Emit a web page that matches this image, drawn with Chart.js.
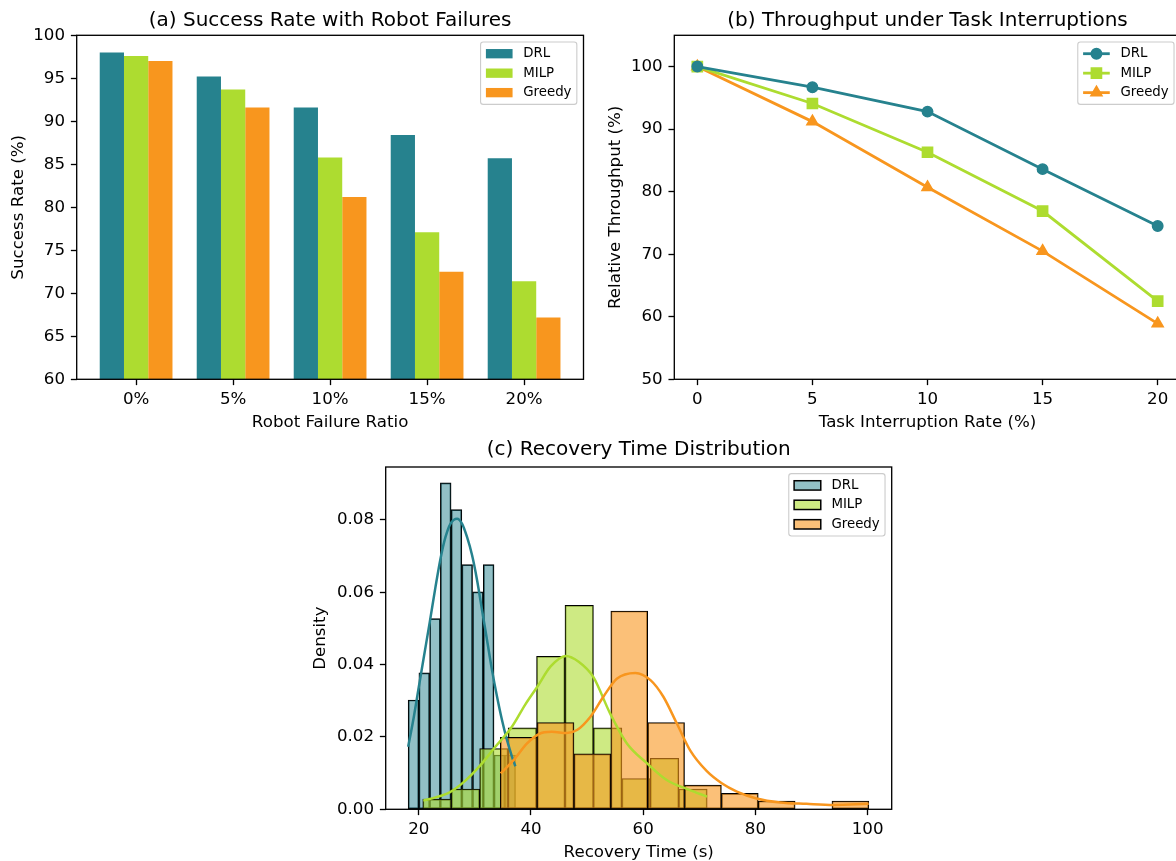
<!DOCTYPE html>
<html>
<head>
<meta charset="utf-8">
<script src="https://cdn.jsdelivr.net/npm/chart.js@4.4.1/dist/chart.umd.min.js"></script>
<style>
html,body{margin:0;padding:0;width:1176px;height:861px;overflow:hidden;background:#fff;}
canvas{position:absolute;}
#ca{left:0;top:0;}
#cb{left:600px;top:0;}
#cc{left:290px;top:430px;}
</style>
</head>
<body>
<canvas id="ca" width="600" height="440"></canvas>
<canvas id="cb" width="600" height="440"></canvas>
<canvas id="cc" width="620" height="440"></canvas>
<script>
// ---------------- data ----------------
const failureRatios = ['0%', '5%', '10%', '15%', '20%'];
const successDRL    = [98.0, 95.2, 91.6, 88.4, 85.7];
const successMILP   = [97.6, 93.7, 85.8, 77.1, 71.4];
const successGreedy = [97.0, 91.6, 81.2, 72.5, 67.2];
const successTicks  = [60, 65, 70, 75, 80, 85, 90, 95, 100];

const interruptRates   = [0, 5, 10, 15, 20];
const throughputDRL    = [100, 96.7, 92.8, 83.6, 74.5];
const throughputMILP   = [100, 94.1, 86.3, 76.9, 62.5];
const throughputGreedy = [100, 91.2, 80.7, 70.5, 58.9];
const throughputTicks  = [50, 60, 70, 80, 90, 100];

const drlBinEdges    = [18.10, 20.01, 21.93, 23.84, 25.76, 27.67, 29.58, 31.50, 33.41, 35.33, 37.24];
const drlDensity     = [0.0302, 0.0377, 0.0527, 0.0902, 0.0828, 0.0676, 0.0601, 0.0676, 0.0150, 0.0150];
const milpBinEdges   = [20.71, 25.78, 30.85, 35.92, 40.99, 46.06, 51.13, 56.20, 61.27, 66.34, 71.41];
const milpDensity    = [0.0028, 0.0056, 0.0168, 0.0225, 0.0423, 0.0564, 0.0225, 0.0085, 0.0141, 0.0056];
const greedyBinEdges = [34.52, 41.09, 47.66, 54.23, 60.80, 67.37, 73.94, 80.51, 87.08, 93.65, 100.22];
const greedyDensity  = [0.0199, 0.0240, 0.0153, 0.0548, 0.0240, 0.0067, 0.0044, 0.0023, 0.0, 0.0023];

const drlKdeX = [18.11, 19.12, 20.0, 20.9, 21.96, 22.97, 23.86, 24.75, 25.64, 26.83, 27.72, 28.61, 29.5, 30.39, 31.28, 32.17, 33.06, 33.95, 34.84, 35.73, 36.62, 37.21];
const drlKdeY = [0.0173, 0.0256, 0.0338, 0.0421, 0.0518, 0.0614, 0.0692, 0.0752, 0.0789, 0.0803, 0.0789, 0.0752, 0.0702, 0.0633, 0.0550, 0.0467, 0.0384, 0.0311, 0.0246, 0.0191, 0.0145, 0.0119];
const milpKdeX = [20.8, 23.0, 25.5, 28.0, 31.0, 33.5, 36.6, 39.0, 41.1, 43.5, 46.2, 48.5, 51.1, 54.1, 57.1, 60.7, 64.2, 68.0, 71.4];
const milpKdeY = [0.0024, 0.0033, 0.0047, 0.0075, 0.0122, 0.0170, 0.0228, 0.0290, 0.0338, 0.0395, 0.0424, 0.0408, 0.0366, 0.0265, 0.0182, 0.0127, 0.0081, 0.0055, 0.0035];
const greedyKdeX = [34.6, 36.9, 39.3, 41.4, 43.7, 46.4, 48.2, 50.6, 52.9, 55.3, 58.6, 61.3, 63.6, 66.0, 68.4, 71.3, 74.0, 76.7, 80.2, 84.4, 89.1, 93.9, 100.2];
const greedyKdeY = [0.0099, 0.0136, 0.0182, 0.0208, 0.0214, 0.0211, 0.0219, 0.0256, 0.0311, 0.0361, 0.0377, 0.0357, 0.0311, 0.0237, 0.0162, 0.0106, 0.0072, 0.0049, 0.0030, 0.0019, 0.0015, 0.0012, 0.0015];

const recoveryTicks = [20, 40, 60, 80, 100];
const densityTicks  = [0, 0.02, 0.04, 0.06, 0.08];

// ---------------- styling ----------------
const C_DRL = '#26828E', C_MILP = '#ADDC30', C_GREEDY = '#F8961E';
const PT = 120 / 72;
const FS_TICK = 10 * PT, FS_TITLE = 12 * PT, FS_LEG = 8 * PT;
const TICK_LEN = 3.5 * PT, AXIS_LW = 0.8 * PT;
const FONT = "'DejaVu Sans', 'Liberation Sans', sans-serif";

Chart.defaults.font.family = FONT;
Chart.defaults.color = '#000';
Chart.defaults.animation = false;

function rgba(hex, a) {
  const n = parseInt(hex.slice(1), 16);
  return `rgba(${(n >> 16) & 255},${(n >> 8) & 255},${n & 255},${a})`;
}
function pts(xs, ys) { return xs.map((x, i) => ({x: x, y: ys[i]})); }
function centers(edges) { return edges.slice(0, -1).map((e, i) => (e + edges[i + 1]) / 2); }

function gridOpts() {
  return {display: true, offset: false, drawOnChartArea: false, drawTicks: true, tickLength: TICK_LEN,
    tickWidth: AXIS_LW, tickColor: '#000', color: '#000'};
}

function xScale(o) {
  return {
    type: 'linear', position: 'bottom', min: o.min, max: o.max, offset: false,
    afterBuildTicks: s => { s.ticks = o.ticks.map(v => ({value: v})); },
    afterFit: s => { s.height = o.height; },
    grid: gridOpts(), border: {display: false},
    ticks: {font: {size: FS_TICK}, padding: 4.3, maxRotation: 0, autoSkip: false, color: '#000', callback: o.fmt},
    title: {display: true, text: o.title, color: '#000', font: {size: FS_TICK}, padding: {top: 0, bottom: o.titlePad}}
  };
}
function yScale(o) {
  return {
    type: 'linear', position: 'left', min: o.min, max: o.max, offset: false,
    afterBuildTicks: s => { s.ticks = o.ticks.map(v => ({value: v})); },
    afterFit: s => { s.width = o.width; },
    grid: gridOpts(), border: {display: false},
    ticks: {font: {size: FS_TICK}, padding: 5.8, autoSkip: false, color: '#000', callback: o.fmt},
    title: {display: true, text: o.title, color: '#000', font: {size: FS_TICK}, padding: {top: o.titlePad, bottom: 0}}
  };
}
function hiddenX(min, max) {
  return {type: 'linear', axis: 'x', position: 'bottom', display: false, min: min, max: max,
    offset: false, grid: {offset: false},
    afterBuildTicks: s => { s.ticks = [{value: min}]; }};
}
function titleOpts(text, top, bottom) {
  return {display: true, fullSize: false, text: text, color: '#000',
    font: {size: FS_TITLE, weight: 'normal'}, padding: {top: top, bottom: bottom}};
}

function drawMarker(ctx, style, x, y, r) {
  ctx.beginPath();
  if (style === 'circle') {
    ctx.arc(x, y, r, 0, Math.PI * 2);
  } else if (style === 'rect') {
    const s = r * Math.SQRT1_2;
    ctx.rect(x - s, y - s, 2 * s, 2 * s);
  } else if (style === 'triangle') {
    ctx.moveTo(x, y - r);
    ctx.lineTo(x + r * 0.866, y + r * 0.5);
    ctx.lineTo(x - r * 0.866, y + r * 0.5);
    ctx.closePath();
  }
  ctx.fill();
  ctx.stroke();
}

// matplotlib-like frame and in-axes legend
const mplDecor = {
  id: 'mplDecor',
  afterDatasetsDraw(chart) {
    const {ctx, chartArea: a} = chart;
    ctx.save();
    ctx.strokeStyle = '#000';
    ctx.lineWidth = AXIS_LW;
    ctx.strokeRect(a.left, a.top, a.right - a.left, a.bottom - a.top);
    ctx.restore();
  },
  afterDraw(chart) {
    const items = chart.data.datasets.filter(d => d.legendKind);
    if (!items.length) return;
    const {ctx, chartArea: a} = chart;
    const fs = FS_LEG, pad = 0.4 * fs, hLen = 2 * fs, hGap = 0.8 * fs, rowH = 12.8, rowGap = 0.5 * fs;
    ctx.save();
    ctx.font = `${fs}px ${FONT}`;
    const tw = Math.max(...items.map(d => ctx.measureText(d.label).width));
    const w = pad * 2 + hLen + hGap + tw;
    const h = pad * 2 + items.length * rowH + (items.length - 1) * rowGap;
    const right = a.right - 0.5 * fs, top = a.top + 0.5 * fs, left = right - w;
    ctx.beginPath();
    if (ctx.roundRect) ctx.roundRect(left, top, w, h, 2.7); else ctx.rect(left, top, w, h);
    ctx.fillStyle = 'rgba(255,255,255,0.8)';
    ctx.fill();
    ctx.strokeStyle = '#cccccc';
    ctx.lineWidth = 1.1;
    ctx.stroke();
    items.forEach((d, i) => {
      const cy = top + pad + rowH / 2 + i * (rowH + rowGap);
      const hx = left + pad;
      if (d.legendKind === 'patch') {
        ctx.fillStyle = d.backgroundColor;
        ctx.fillRect(hx, cy - 0.35 * fs, hLen, 0.7 * fs);
        if (d.borderWidth) {
          ctx.strokeStyle = d.borderColor;
          ctx.lineWidth = 1.5;
          ctx.strokeRect(hx, cy - 0.35 * fs, hLen, 0.7 * fs);
        }
      } else {
        ctx.strokeStyle = d.borderColor;
        ctx.lineWidth = d.borderWidth;
        ctx.beginPath();
        ctx.moveTo(hx, cy);
        ctx.lineTo(hx + hLen, cy);
        ctx.stroke();
        ctx.fillStyle = d.pointBackgroundColor;
        ctx.strokeStyle = d.pointBorderColor;
        ctx.lineWidth = d.pointBorderWidth;
        drawMarker(ctx, d.pointStyle, hx + hLen / 2, cy, d.pointRadius);
      }
      ctx.fillStyle = '#000';
      ctx.textAlign = 'left';
      ctx.textBaseline = 'middle';
      ctx.fillText(d.label, hx + hLen + hGap, cy);
    });
    ctx.restore();
  }
};
Chart.register(mplDecor);

const baseOpts = {responsive: false, animation: false, events: []};

// ---------------- (a) grouped bars ----------------
const idx = failureRatios.map((_, i) => i);
new Chart(document.getElementById('ca'), {
  type: 'bar',
  data: {
    datasets: [
      {label: 'DRL', data: pts(idx, successDRL), backgroundColor: C_DRL, legendKind: 'patch'},
      {label: 'MILP', data: pts(idx, successMILP), backgroundColor: C_MILP, legendKind: 'patch'},
      {label: 'Greedy', data: pts(idx, successGreedy), backgroundColor: C_GREEDY, legendKind: 'patch'}
    ]
  },
  options: Object.assign({}, baseOpts, {
    layout: {padding: {left: 0, right: 16.5, top: 0, bottom: 0}},
    datasets: {bar: {categoryPercentage: 0.75, barPercentage: 1.0, borderWidth: 0}},
    scales: {
      x: xScale({min: -0.6125, max: 4.6125, ticks: idx, fmt: v => failureRatios[Math.round(v)],
        title: 'Robot Failure Ratio', height: 60.7, titlePad: 7.3}),
      y: yScale({min: 60, max: 100, ticks: successTicks, fmt: v => String(v),
        title: 'Success Rate (%)', width: 76.7, titlePad: 8.7})
    },
    plugins: {legend: {display: false}, tooltip: {enabled: false},
      title: titleOpts('(a) Success Rate with Robot Failures', 8.3, 3.0)}
  })
});

// ---------------- (b) lines with markers ----------------
function lineSet(label, ys, color, style, r) {
  return {label: label, data: pts(interruptRates, ys), borderColor: color, backgroundColor: color,
    borderWidth: 2.8, pointStyle: style, pointRadius: r, pointBorderWidth: 1.5,
    pointBackgroundColor: color, pointBorderColor: color, tension: 0, fill: false, legendKind: 'line'};
}
new Chart(document.getElementById('cb'), {
  type: 'line',
  data: {
    datasets: [
      lineSet('DRL', throughputDRL, C_DRL, 'circle', 5.2),
      lineSet('MILP', throughputMILP, C_MILP, 'rect', 7.2),
      lineSet('Greedy', throughputGreedy, C_GREEDY, 'triangle', 6.4)
    ]
  },
  options: Object.assign({}, baseOpts, {
    layout: {padding: {left: 0, right: 19.3, top: 0, bottom: 0}},
    scales: {
      x: xScale({min: -1, max: 21, ticks: interruptRates, fmt: v => String(v),
        title: 'Task Interruption Rate (%)', height: 60.7, titlePad: 7.3}),
      y: yScale({min: 50, max: 105, ticks: throughputTicks, fmt: v => String(v),
        title: 'Relative Throughput (%)', width: 74.3, titlePad: 5.8})
    },
    plugins: {legend: {display: false}, tooltip: {enabled: false},
      title: titleOpts('(b) Throughput under Task Interruptions', 8.3, 3.0)}
  })
});

// ---------------- (c) histograms + KDE ----------------
const X_MIN = 14.1, X_MAX = 104.3;
function histSet(label, edges, dens, color, alpha, axisId, order) {
  return {type: 'bar', label: label, data: pts(centers(edges), dens), xAxisID: axisId,
    backgroundColor: rgba(color, alpha), borderColor: '#000', borderWidth: 1.0, borderSkipped: false,
    grouped: false, categoryPercentage: 1.0, barPercentage: 1.0, order: order, legendKind: 'patch'};
}
function kdeSet(label, xs, ys, color, order) {
  return {type: 'line', label: label + ' KDE', data: pts(xs, ys), xAxisID: 'x',
    borderColor: color, borderWidth: 2.5, pointRadius: 0, fill: false,
    cubicInterpolationMode: 'monotone', order: order};
}
new Chart(document.getElementById('cc'), {
  type: 'bar',
  data: {
    datasets: [
      histSet('DRL', drlBinEdges, drlDensity, C_DRL, 0.5, 'xDRL', 13),
      histSet('MILP', milpBinEdges, milpDensity, C_MILP, 0.6, 'xMILP', 12),
      histSet('Greedy', greedyBinEdges, greedyDensity, C_GREEDY, 0.6, 'xGreedy', 11),
      kdeSet('DRL', drlKdeX, drlKdeY, C_DRL, 3),
      kdeSet('MILP', milpKdeX, milpKdeY, C_MILP, 2),
      kdeSet('Greedy', greedyKdeX, greedyKdeY, C_GREEDY, 1)
    ]
  },
  options: Object.assign({}, baseOpts, {
    layout: {padding: {left: 0, right: 18.3, top: 0, bottom: 0}},
    datasets: {bar: {categoryPercentage: 1.0, barPercentage: 1.0, grouped: false}},
    scales: {
      x: xScale({min: X_MIN, max: X_MAX, ticks: recoveryTicks, fmt: v => String(v),
        title: 'Recovery Time (s)', height: 60.7, titlePad: 7.8}),
      xDRL: hiddenX(X_MIN, X_MAX),
      xMILP: hiddenX(X_MIN, X_MAX),
      xGreedy: hiddenX(X_MIN, X_MAX),
      y: yScale({min: 0, max: 0.0946, ticks: densityTicks, fmt: v => v.toFixed(2),
        title: 'Density', width: 95.7, titlePad: 20.5})
    },
    plugins: {legend: {display: false}, tooltip: {enabled: false},
      title: titleOpts('(c) Recovery Time Distribution', 7.5, 5.5)}
  })
});
</script>
</body>
</html>
